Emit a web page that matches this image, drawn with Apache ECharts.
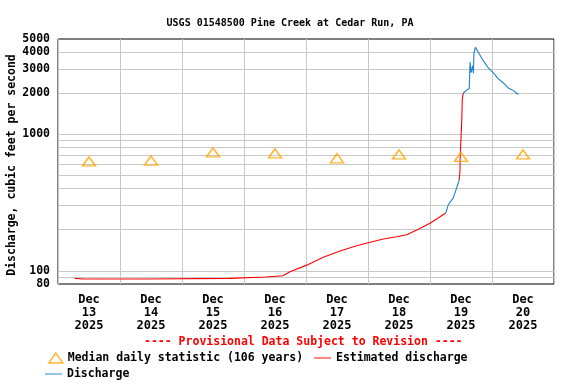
<!DOCTYPE html>
<html><head><meta charset="utf-8">
<script src="https://cdn.jsdelivr.net/npm/echarts@6/dist/echarts.min.js"></script>
<style>html,body{margin:0;padding:0;background:#fff}#c{width:576px;height:384px}</style>
</head><body><div id="c"></div>
<script>
// x labels (centered at noon of each day)
const dayLabels = ['Dec\n13\n2025','Dec\n14\n2025','Dec\n15\n2025','Dec\n16\n2025','Dec\n17\n2025','Dec\n18\n2025','Dec\n19\n2025','Dec\n20\n2025'];
// median daily statistic (cfs), one per day
const medianValues = [633, 643, 737, 724, 668, 712, 683, 712];
// y tick labels and grid lines
const yLabelValues = [80, 100, 1000, 2000, 3000, 4000, 5000];
const yGridValues = [90, 100, 200, 300, 400, 500, 600, 700, 800, 900, 1000, 2000, 3000, 4000];

// hours since Dec 13 00:00 and discharge (cfs)
const estHours1 = [6.5, 10, 34, 34.5, 66.5, 67, 80.5, 81, 87, 89.8, 96.3, 102.7, 109.2, 115.6, 120.1, 125.9, 131.1, 135, 138.9, 144, 147.9, 150.1];
const estValues1 = [88, 87, 87, 88, 88, 90, 90, 92, 92, 98.5, 110, 125.5, 139.7, 152.7, 160.6, 171, 177.8, 183.9, 199, 222.9, 249, 265];
const disHours1 = [150.1, 151.1, 153, 154.3, 155.3];
const disValues1 = [265, 305, 342, 404, 463];
const estHours2 = [155.3, 155.6, 155.7, 156, 156.3, 156.5, 156.9];
const estValues2 = [463, 536, 710, 941, 1282, 1818, 2011];
const disHours2 = [156.9, 157.5, 158.4, 159.2, 159.5, 159.9, 160.5, 160.8, 161, 161.6, 162.3, 163.1, 164.6, 166.6, 168.5, 170.4, 172.4, 174.3, 176.3, 178.2];
const disValues2 = [2011, 2045, 2126, 2162, 3394, 2833, 3172, 2804, 3930, 4350, 4298, 3885, 3469, 3067, 2819, 2560, 2381, 2188, 2092, 1961];

const zip = (h, v) => h.map((x, i) => [x, v[i]]);
const estData = zip(estHours1, estValues1).concat([[null, null]], zip(estHours2, estValues2));
const disData = zip(disHours1, disValues1).concat([[null, null]], zip(disHours2, disValues2));

const FONT = 'DejaVu Sans Mono';
const txt = {fontFamily: FONT, fontWeight: 'bold', fontSize: 11.5, color: '#000'};

const chart = echarts.init(document.getElementById('c'), null, {renderer: 'canvas'});
chart.setOption({
  animation: false,
  backgroundColor: '#fff',
  title: {
    text: 'USGS 01548500 Pine Creek at Cedar Run, PA',
    left: 285, top: 13, textAlign: 'center',
    textStyle: {fontFamily: FONT, fontWeight: 'bold', fontSize: 10, color: '#000'}
  },
  grid: {left: 58, right: 22, top: 39, bottom: 100, outerBoundsMode: 'none', containLabel: false,
         show: true, borderColor: '#000', borderWidth: 1, backgroundColor: 'transparent'},
  xAxis: [
    {type: 'value', min: 0, max: 192, interval: 24, position: 'bottom',
     axisLine: {show: false}, axisTick: {show: false}, axisLabel: {show: false},
     splitLine: {show: true, lineStyle: {color: '#c8c8c8', width: 1}}},
    {type: 'category', data: dayLabels, boundaryGap: true, position: 'bottom',
     axisLine: {show: false}, axisTick: {show: false}, splitLine: {show: false},
     axisLabel: {fontFamily: FONT, fontWeight: 'bold', fontSize: 12, lineHeight: 13, color: '#000', margin: 9, interval: 0}}
  ],
  yAxis: {
    type: 'log', logBase: 10, min: 80, max: 5000,
    axisLine: {show: false},
    axisTick: {show: false, customValues: yGridValues},
    axisLabel: {customValues: yLabelValues, formatter: v => String(Math.round(v)),
                fontFamily: FONT, fontWeight: 'bold', fontSize: 11.5, color: '#000', margin: 8},
    splitLine: {show: true, lineStyle: {color: '#c8c8c8', width: 1}}
  },
  legend: [
    {left: 48, top: 352, padding: 0, itemWidth: 14, itemHeight: 10, textStyle: txt, data: [{name: 'Median daily statistic (106 years)', icon: 'triangle', itemStyle: {color: 'transparent', borderColor: '#FFA500', borderWidth: 1.5}}]},
    {left: 314, top: 352, padding: 0, itemWidth: 17, itemHeight: 10, textStyle: txt, data: [{name: 'Estimated discharge', icon: 'path://M0,4.5H18V5.5H0Z', itemStyle: {color: '#FF0000'}}]},
    {left: 45, top: 368, padding: 0, itemWidth: 17, itemHeight: 10, textStyle: txt, data: [{name: 'Discharge', icon: 'path://M0,4.5H18V5.5H0Z', itemStyle: {color: '#1a82d0'}}]}
  ],
  graphic: [
    {type: 'text', left: 144, top: 336,
     style: {text: '---- Provisional Data Subject to Revision ----', font: 'bold 11.5px "DejaVu Sans Mono"', fill: '#FF0000'}},
    {type: 'text', x: 12, y: 165, rotation: Math.PI / 2,
     style: {text: 'Discharge, cubic feet per second', font: 'bold 11.5px "DejaVu Sans Mono"', fill: '#000', align: 'center', verticalAlign: 'middle'}}
  ],
  series: [
    {name: 'Median daily statistic (106 years)', type: 'scatter', xAxisIndex: 1, data: medianValues,
     symbol: 'triangle', symbolSize: [13, 9],
     itemStyle: {color: 'transparent', borderColor: '#FFA500', borderWidth: 1.5}, z: 5},
    {name: 'Estimated discharge', type: 'line', xAxisIndex: 0, data: estData, symbol: 'none', connectNulls: false,
     lineStyle: {color: '#FF0000', width: 1.1}, itemStyle: {color: '#FF0000'}},
    {name: 'Discharge', type: 'line', xAxisIndex: 0, data: disData, symbol: 'none', connectNulls: false,
     lineStyle: {color: '#1a82d0', width: 1.1}, itemStyle: {color: '#1a82d0'}}
  ]
});
</script></body></html>
